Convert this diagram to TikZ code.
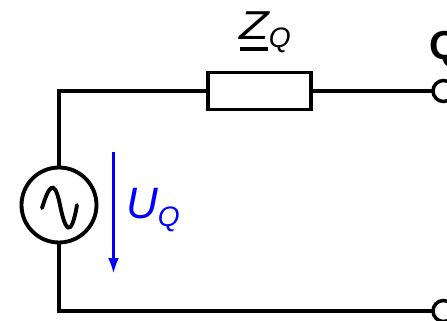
\documentclass[tikz,border=0pt]{standalone}
\usepackage{fontspec}
\usetikzlibrary{arrows.meta}
\setmainfont{Liberation Sans}
\tikzset{
    wire/.style={line width=2.5pt},
    terminal/.style={circle, draw, line width=2pt, fill=white, minimum size=.42cm, inner sep=0pt},
}

\begin{document}
\begin{tikzpicture}

    \path[use as bounding box, clip] (0,0) rectangle (8.94,6.4);

    % Wires
    \coordinate (upper) at (8.87,4.58);
    \coordinate (lower) at (8.87,.18);
    \coordinate (source) at (1.18,2.3);
    \coordinate (impedance) at (5.19,4.58);
    \draw[wire] (source) |- (impedance);
    \draw[wire] (impedance) -- (upper);
    \draw[wire] (source) |- (lower);

    % Source
    \node[circle, draw, fill=white, line width=2.2pt, minimum size=1.5cm, inner sep=0pt] (generator) at (source) {};
    \draw[line width=2.2pt, line cap=round] (.84,2.24) .. controls (.96,2.62) and (1.08,2.9) .. (1.2,2.3)
        .. controls (1.3,1.8) and (1.42,1.6) .. (1.54,2.3);

    % Impedance
    \node[draw, fill=white, line width=2.2pt, minimum width=2.06cm, minimum height=.74cm, inner sep=0pt] (resistor) at (impedance) {};
    \node (label) at (5.3,5.75) {\fontsize{23}{23}\selectfont\itshape\scalebox{1.2}[1]{Z}\fontsize{16}{16}\selectfont\raisebox{-.3em}{Q}};
    \coordinate (line) at (4.8,5.42);
    \draw[line width=2pt] (line) -- +(.55,0);

    % Terminals
    \node[terminal] (uppert) at (upper) {};
    \node[terminal] (lowert) at (lower) {};
    \node (name) at (8.9,5.42) {\fontsize{23}{23}\selectfont\bfseries Q};

    % Voltage
    \coordinate (top) at (2.27,3.36);
    \coordinate (bottom) at (2.27,.92);
    \draw[-{Latex[length=.32cm,width=.22cm]}, blue, line width=2pt] (top) -- (bottom);
    \node[blue] (voltage) at (3.06,2.2) {\fontsize{25}{25}\selectfont\itshape U\fontsize{16}{16}\selectfont\raisebox{-.3em}{Q}};

\end{tikzpicture}
\end{document}
